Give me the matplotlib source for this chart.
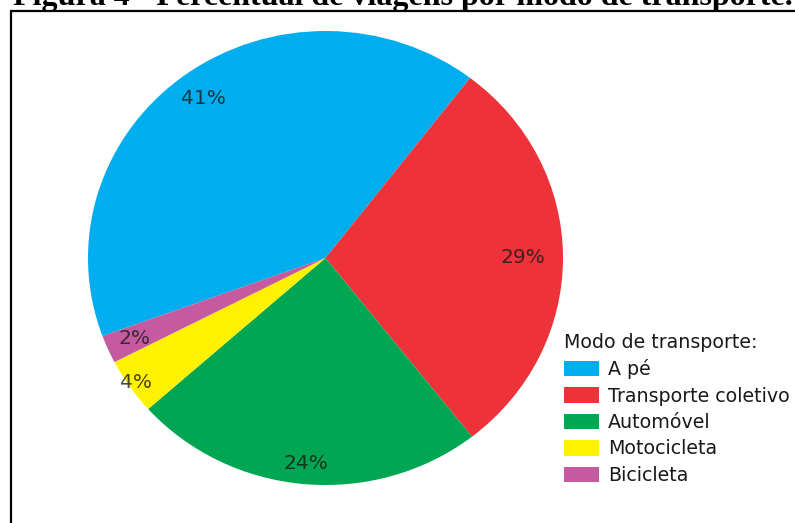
import matplotlib
matplotlib.use("Agg")
import matplotlib.pyplot as plt
from matplotlib.patches import Rectangle, Patch
import numpy as np

# Data
categories = ["A pé", "Transporte coletivo", "Automóvel", "Motocicleta", "Bicicleta"]
values = [41, 29, 24, 4, 2]
colors = ["#00AEEF", "#EE3239", "#00A651", "#FFF200", "#C55AA0"]
label_radius = [0.87, 0.83, 0.91, 0.97, 0.88]
title_text = "Figura 4 - Percentual de viagens por modo de transporte."
legend_title = "Modo de transporte:"

W, H = 795, 523
fig = plt.figure(figsize=(W / 100, H / 100), dpi=100)

# pie axes (pixel geometry)
left, right, top, bottom = 88, 563, 31, 485
ax = fig.add_axes([left / W, 1 - bottom / H, (right - left) / W, (bottom - top) / H])
wedges, texts, autotexts = ax.pie(values, colors=colors, startangle=200.1, counterclock=False,
                                  autopct="%d%%", pctdistance=0.87,
                                  wedgeprops=dict(linewidth=0),
                                  textprops=dict(fontsize=14.5, color="#1a1a1a", family="DejaVu Sans"))
ax.set_aspect("auto")
ax.set_xlim(-1, 1)
ax.set_ylim(-1, 1)
for w, t, r in zip(wedges, autotexts, label_radius):
    ang = np.deg2rad((w.theta1 + w.theta2) / 2)
    t.set_position((r * np.cos(ang), r * np.sin(ang)))
    t.set_alpha(0.8)

# legend
handles = [Patch(facecolor=c, edgecolor="none") for c in colors]
leg = fig.legend(handles, categories, title=legend_title, loc="upper left",
                 bbox_to_anchor=(560 / W, 1 - 329 / H), frameon=False,
                 fontsize=13.7, title_fontsize=13.7, alignment="left",
                 handlelength=1.85, handleheight=0.88, handletextpad=0.46,
                 labelspacing=0.39, borderpad=0.2, borderaxespad=0)
for t in leg.get_texts():
    t.set_color("#1a1a1a")
leg.get_title().set_color("#1a1a1a")

# frame
fig.patches.append(Rectangle((11 / W, -0.1), 1.2, 1.1 - 11.5 / H, transform=fig.transFigure,
                             fill=False, edgecolor="black", linewidth=1.6))

# title (partially cut off at the top, as in the reference)
tt = fig.text(13 / W, 1 - 5 / H, title_text, ha="left", va="baseline",
              fontsize=23, fontweight="bold", family="Liberation Serif")

fig.savefig("out.png", dpi=100)
